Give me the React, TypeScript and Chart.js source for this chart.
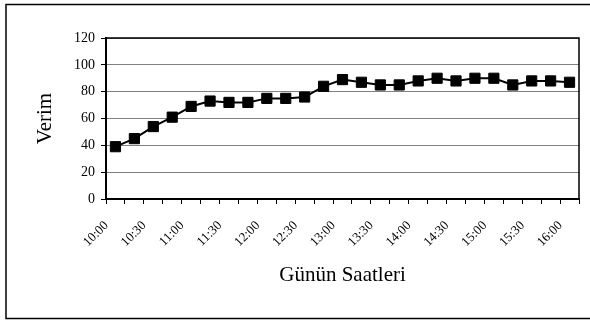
import React, { useEffect, useRef } from "react";
import { Chart, registerables } from "chart.js";

Chart.register(...registerables);

const categories: string[] = [
  "10:00", "10:15", "10:30", "10:45", "11:00", "11:15", "11:30", "11:45",
  "12:00", "12:15", "12:30", "12:45", "13:00", "13:15", "13:30", "13:45",
  "14:00", "14:15", "14:30", "14:45", "15:00", "15:15", "15:30", "15:45", "16:00",
];
const verimValues: number[] = [
  39, 45, 54, 61, 69, 73, 72, 72, 75, 75, 76, 84, 89,
  87, 85, 85, 88, 90, 88, 90, 90, 85, 88, 88, 87,
];
const yTicks: number[] = [0, 20, 40, 60, 80, 100, 120];
const xTitle = "Günün Saatleri";
const yTitle = "Verim";

const FONT = "'Liberation Serif', 'Times New Roman', serif";

export default function App() {
  const ref = useRef<HTMLCanvasElement | null>(null);

  useEffect(() => {
    document.body.style.margin = "0";
    const canvas = ref.current;
    if (!canvas) return;

    const framePlugin = {
      id: "frame",
      afterDraw(chart: any) {
        const { ctx, chartArea } = chart;
        ctx.save();
        ctx.strokeStyle = "#000";
        ctx.lineWidth = 1.5;
        ctx.strokeRect(6, 4.5, 700, 314);
        ctx.beginPath();
        ctx.moveTo(chartArea.left, chartArea.top);
        ctx.lineTo(chartArea.right, chartArea.top);
        ctx.lineTo(chartArea.right, chartArea.bottom);
        ctx.stroke();
        ctx.restore();
      },
    };

    const chart = new Chart(canvas, {
      type: "line",
      data: {
        labels: categories,
        datasets: [
          {
            data: verimValues,
            borderColor: "#000",
            borderWidth: 2,
            backgroundColor: "#000",
            pointStyle: "rect",
            pointRadius: 7.2,
            pointBorderWidth: 1,
            pointBorderColor: "#000",
            pointBackgroundColor: "#000",
            tension: 0,
          },
        ],
      },
      options: {
        animation: false,
        responsive: false,
        devicePixelRatio: 1,
        layout: { padding: { left: 0, top: 38, right: 11, bottom: 0 } },
        plugins: {
          legend: { display: false },
          tooltip: { enabled: false },
        },
        scales: {
          x: {
            type: "category",
            offset: true,
            afterFit(scale: any) {
              scale.height = 121;
              scale.paddingLeft = 0;
              scale.paddingRight = 0;
            },
            grid: {
              offset: true,
              drawOnChartArea: false,
              drawTicks: true,
              tickLength: 5,
              tickColor: "#000",
              tickWidth: 1,
            },
            border: { color: "#000", width: 2 },
            ticks: {
              autoSkip: false,
              maxRotation: 45,
              minRotation: 45,
              padding: 14,
              labelOffset: -9,
              color: "#000",
              font: { family: FONT, size: 13 },
              callback: (_v: any, i: number) => {
                const l = categories[i];
                return l.endsWith(":00") || l.endsWith(":30") ? l : "";
              },
            },
            title: {
              display: true,
              text: xTitle,
              color: "#000",
              font: { family: FONT, size: 21 },
              padding: { top: 0, bottom: 32 },
            },
          },
          y: {
            min: 0,
            max: 120,
            afterFit(scale: any) {
              scale.width = 106;
              scale.paddingTop = 0;
              scale.paddingBottom = 0;
            },
            afterBuildTicks(scale: any) {
              scale.ticks = yTicks.map((v) => ({ value: v }));
            },
            grid: {
              color: "#808080",
              lineWidth: 1,
              drawTicks: true,
              tickLength: 5,
              tickColor: "#000",
            },
            border: { color: "#000", width: 2 },
            ticks: {
              color: "#000",
              padding: 6,
              font: { family: FONT, size: 14 },
            },
            title: {
              display: true,
              text: yTitle,
              color: "#000",
              font: { family: FONT, size: 21 },
              padding: { top: 33, bottom: 0 },
            },
          },
        },
      },
      plugins: [framePlugin],
    });

    return () => chart.destroy();
  }, []);

  return <canvas ref={ref} width={590} height={320} style={{ display: "block" }} />;
}
